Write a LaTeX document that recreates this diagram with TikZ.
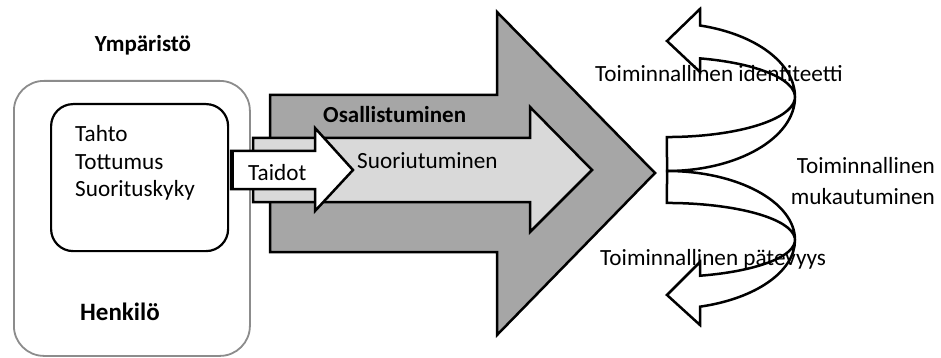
\documentclass[tikz,border=0pt]{standalone}
\usepackage{fontspec}
\setmainfont{Carlito}
\definecolor{darkg}{HTML}{A6A6A6}
\definecolor{lightg}{HTML}{D9D9D9}
\definecolor{boxg}{HTML}{8C8C8C}
\begin{document}
\begin{tikzpicture}[x=1pt,y=1pt,
  txt/.style={inner sep=0pt, text=black, font=\fontsize{23.2}{28}\selectfont},
  btxt/.style={inner sep=0pt, text=black, font=\fontsize{23}{28}\selectfont\bfseries},
  bl/.style={line width=2.5pt, draw=black, line join=miter},
  curv/.style={line width=2.5pt, draw=black, fill=white, line join=miter},
]
\useasboundingbox (0,0) rectangle (941,-358);
\fill[white] (0,0) rectangle (941,-358);

% outer and inner boxes
\node[draw=boxg, line width=1.8pt, rounded corners=30pt, minimum width=236pt,
      minimum height=275pt, anchor=north west, inner sep=0pt] (outer) at (13,-80) {};
\node[draw=black, line width=2.2pt, rounded corners=22pt, minimum width=177pt,
      minimum height=147pt, anchor=north west, inner sep=0pt] (inner) at (50,-103) {};

% big grey arrow (Osallistuminen)
\draw[bl, fill=darkg] (270,-95) -- (497,-95) -- (497,-12) -- (655,-173)
  -- (497,-335) -- (497,-252) -- (270,-252) -- cycle;
% light arrow (Suoriutuminen)
\draw[bl, fill=lightg] (253,-138) -- (530,-138) -- (530,-107) -- (592,-170)
  -- (530,-232) -- (530,-202) -- (253,-202) -- cycle;
% white arrow (Taidot)
\draw[bl, fill=white] (231,-151) -- (315,-151) -- (315,-128) -- (353,-170)
  -- (315,-211) -- (315,-189) -- (231,-189) -- cycle;
\draw[line width=4.5pt] (232,-151) -- (232,-189);

% curved arrows
\draw[curv] (667,-171) arc[start angle=-90, end angle=75, x radius=128pt, y radius=74pt]
  -- (700,-9) -- (667,-41) -- (700,-72) -- (700.1,-58.4)
  arc[start angle=75, end angle=-90, x radius=128pt, y radius=40pt] -- cycle;
\draw[curv] (667,-171) arc[start angle=90, end angle=-75, x radius=128pt, y radius=69pt]
  -- (700,-325) -- (667,-295) -- (700,-262) -- (700.1,-275.7)
  arc[start angle=-75, end angle=90, x radius=128pt, y radius=37pt] -- cycle;

% texts
\node[btxt, anchor=base] (ymp) at (143,-52) {Ympäristö};
\node[txt, anchor=base west] (tahto) at (75,-142) {Tahto};
\node[txt, anchor=base west] (tott) at (75,-169) {Tottumus};
\node[txt, anchor=base west] (suor) at (75,-196) {Suorituskyky};
\node[btxt, anchor=base west, font=\fontsize{25}{30}\selectfont\bfseries] (henk) at (80,-320) {Henkilö};
\node[btxt, anchor=base west] (osal) at (323,-123) {Osallistuminen};
\node[txt, anchor=base west] (suoriu) at (357,-168) {Suoriutuminen};
\node[txt, anchor=base west] (taidot) at (248,-180) {Taidot};
\node[txt, anchor=base west] (ident) at (595,-82) {Toiminnallinen identiteetti};
\node[txt, anchor=base west] (pate) at (600,-265) {Toiminnallinen pätevyys};
\node[txt, anchor=base east] (muk1) at (935,-173) {Toiminnallinen};
\node[txt, anchor=base east] (muk2) at (935,-204) {mukautuminen};
\end{tikzpicture}
\end{document}
